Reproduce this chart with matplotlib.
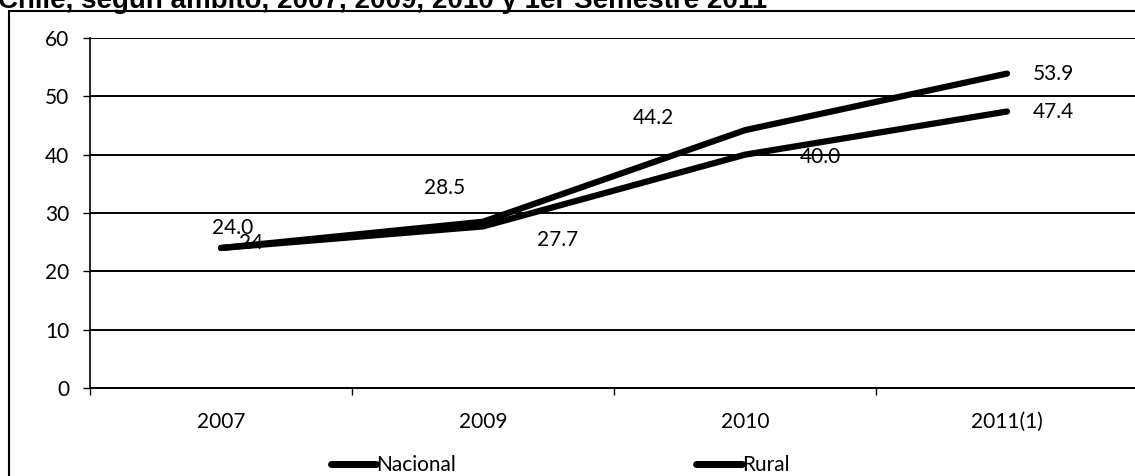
import numpy as np
import matplotlib
matplotlib.use("Agg")
import matplotlib.pyplot as plt
from matplotlib.patches import Rectangle

plt.rcParams['font.family'] = ['Lato', 'DejaVu Sans']

# Data
categories = ["2007", "2009", "2010", "2011(1)"]
nacional = [24.0, 28.5, 44.2, 53.9]
rural = [24.0, 27.7, 40.0, 47.4]
nacional_labels = ["24.0", "28.5", "44.2", "53.9"]
rural_labels = ["24", "27.7", "40.0", "47.4"]
y_ticks = [0, 10, 20, 30, 40, 50, 60]
title = "Chile, según ámbito, 2007, 2009, 2010 y 1er Semestre 2011"

W, H = 1135, 476
fig = plt.figure(figsize=(W / 100, H / 100), dpi=100)

# outer frame of the chart object
fig.patches.append(Rectangle((9 / W, -0.05), 1.2, 1 - 11 / H + 0.05,
                             transform=fig.transFigure, fill=False,
                             edgecolor='black', linewidth=1.5))

# title, only its lower part fits on the page
fig.text(-2 / W, 1 - 8 / H, title, fontsize=20, fontweight='bold',
         family=['Liberation Sans', 'DejaVu Sans'], ha='left', va='baseline')

x0, x1 = 90, 1138
y0, y1 = 388, 38
ax = fig.add_axes([x0 / W, 1 - y0 / H, (x1 - x0) / W, (y0 - y1) / H])

x = np.arange(len(categories))
ax.plot(x, nacional, color='black', lw=4.5, solid_capstyle='round', label='Nacional')
ax.plot(x, rural, color='black', lw=4.5, solid_capstyle='round', label='Rural')

ax.set_xlim(-0.5, len(categories) - 0.5)
ax.set_ylim(0, 60)
ax.set_yticks(y_ticks)
ax.set_xticks(x)
ax.set_xticklabels(categories)
ax.set_xticks(np.arange(-0.5, len(categories)), minor=True)
ax.tick_params(axis='x', which='major', length=0, labelsize=15, pad=17)
ax.tick_params(axis='x', which='minor', length=5, width=1)
ax.tick_params(axis='y', length=5, width=1, labelsize=15, pad=10)
ax.yaxis.grid(True, color='black', lw=1.4)
ax.set_axisbelow(True)
for s in ['top', 'right']:
    ax.spines[s].set_visible(False)
ax.spines['left'].set_linewidth(1.2)
ax.spines['bottom'].set_linewidth(1.4)

# data labels
nac_off = [(12, 20), (-38, 34), (-92, 12), (46, 0)]
rur_off = [(30, 5), (75, -14), (75, -2), (46, 0)]
for i in range(len(categories)):
    ax.annotate(nacional_labels[i], (x[i], nacional[i]), textcoords='offset pixels',
                xytext=nac_off[i], ha='center', va='center', fontsize=15)
    ax.annotate(rural_labels[i], (x[i], rural[i]), textcoords='offset pixels',
                xytext=rur_off[i], ha='center', va='center', fontsize=15)

leg = fig.legend(loc='center', bbox_to_anchor=(560 / W, 1 - 465 / H), ncol=2,
                 frameon=False, fontsize=15, handlelength=2.2, handletextpad=0.0,
                 columnspacing=11.5)
for h in leg.get_lines():
    h.set_linewidth(5)

fig.savefig("out.png", dpi=100)
